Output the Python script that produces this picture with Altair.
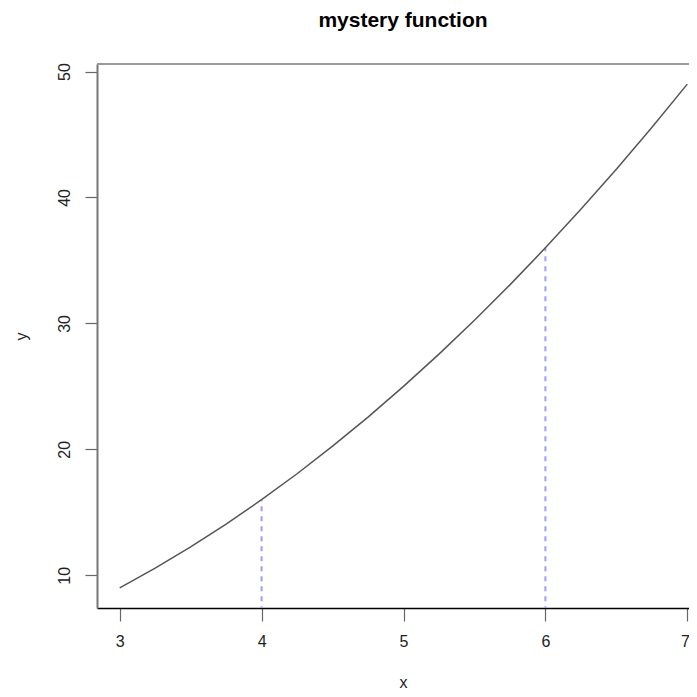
import altair as alt
import pandas as pd

# curve points
xs = [3, 3.25, 3.5, 3.75, 4, 4.25, 4.5, 4.75, 5, 5.25, 5.5, 5.75, 6, 6.25, 6.5, 6.75, 7]
ys = [9, 10.56, 12.25, 14.06, 16, 18.06, 20.25, 22.56, 25, 27.56, 30.25, 33.06, 36, 39.06, 42.25, 45.56, 49]

# dashed guide segments
seg_x = [4, 6]
seg_top = [16, 36]
seg_bottom = [0, 0]

x_ticks = [3, 4, 5, 6, 7]
y_ticks = [10, 20, 30, 40, 50]

curve = pd.DataFrame({"x": xs, "y": ys})
segs = pd.DataFrame({"x": seg_x, "y": seg_bottom, "y2": seg_top})

W, H = 592, 544
xscale = alt.Scale(domain=[2.84, 7.012], nice=False, zero=False)
yscale = alt.Scale(domain=[7.4, 50.6], nice=False, zero=False)

FONT = "Liberation Sans"

xaxis = alt.Axis(
    values=x_ticks, format="d", title="x", grid=False,
    domainColor="#000000", domainWidth=1.5,
    tickColor="#666666", tickSize=13, tickWidth=1.2,
    labelPadding=12, labelFontSize=16, labelColor="#222222", labelFont=FONT,
    labelAlign={"condition": {"test": "datum.value == 7", "value": "right"}, "value": "center"},
    labelOffset={"condition": {"test": "datum.value == 7", "value": 2}, "value": 0},
    titleFont=FONT, titleFontSize=16, titleFontWeight="normal", titleColor="#222222",
    titleY=74, titleBaseline="middle", titleX=306,
)
yaxis = alt.Axis(
    values=y_ticks, format="d", title="y", grid=False,
    domainColor="#777777", domainWidth=2,
    tickColor="#666666", tickSize=12, tickWidth=1.2,
    labelAngle=270, labelAlign="center", labelBaseline="bottom", labelPadding=13,
    labelFontSize=16, labelColor="#222222", labelFont=FONT,
    titleFont=FONT, titleFontSize=16, titleFontWeight="normal", titleColor="#222222",
    titleAngle=270, titleX=-76, titleY=272, titleBaseline="middle", titleAlign="center",
)

line = alt.Chart(curve).mark_line(color="#555555", strokeWidth=1.5).encode(
    x=alt.X("x:Q", scale=xscale, axis=xaxis),
    y=alt.Y("y:Q", scale=yscale, axis=yaxis),
)

dashes = alt.Chart(segs).mark_rule(color="#9c9cff", strokeWidth=2, strokeDash=[5, 5], clip=True).encode(
    x=alt.X("x:Q", scale=xscale),
    y=alt.Y("y:Q", scale=yscale),
    y2="y2:Q",
)

top = alt.Chart(curve).mark_rule(color="#999999", strokeWidth=2).encode(
    x=alt.value(0), x2=alt.value(W), y=alt.value(0)
)

chart = (dashes + line + top).properties(
    width=W, height=H,
    title=alt.TitleParams(
        "mystery function", anchor="middle", frame="group", dx=10, offset=32,
        fontSize=21, fontWeight="bold", font=FONT, color="#000000",
    ),
    autosize=alt.AutoSizeParams(type="none"),
    padding={"left": 89, "top": 56, "right": 0, "bottom": 81},
).configure_view(stroke=None)

chart.save("out.html", embed_options={"renderer": "svg", "actions": False})
